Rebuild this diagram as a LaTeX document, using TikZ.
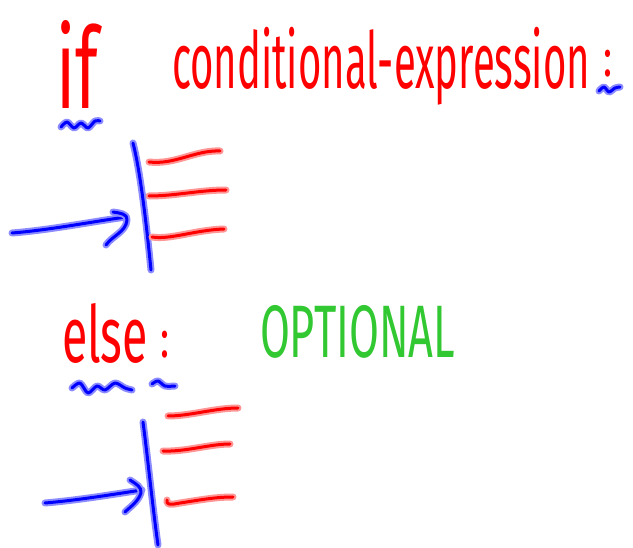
\documentclass[tikz,border=0pt]{standalone}
\usepackage{fontspec}
\setmainfont{Fira Sans}
\usepackage{graphicx}
\definecolor{inkred}{RGB}{255,0,0}
\definecolor{glowred}{RGB}{255,150,150}
\definecolor{inkblue}{RGB}{0,0,255}
\definecolor{glowblue}{RGB}{140,140,255}
\definecolor{inkgreen}{RGB}{50,200,50}
\begin{document}
\begin{tikzpicture}[x=1pt,y=-1pt,
  bstroke/.style={draw=inkblue,line width=3pt,line cap=round,line join=round,
    preaction={draw=glowblue,line width=7pt,line cap=round,line join=round}},
  rstroke/.style={draw=inkred,line width=3pt,line cap=round,line join=round,
    preaction={draw=glowred,line width=7pt,line cap=round,line join=round}},
  txt/.style={anchor=north west,inner sep=0pt,outer sep=0pt}]
\fill[white] (0,0) rectangle (633,548);
\useasboundingbox (0,0) rectangle (633,548);

% --- if line ---
\node[txt,text=inkred] (if) at (56,20) {\resizebox*{42pt}{88pt}{if}};
\node[txt,text=inkred] (cond) at (172,27) {\resizebox*{418pt}{78pt}{conditional-expression}};
\node[txt,text=inkred] (colon1) at (603,50) {\resizebox*{9pt}{27pt}{:}};
\draw[bstroke] plot[smooth] coordinates {(61,127)(67,122)(74,128)(81,123)(88,128)(95,121)(100,121)};
\draw[bstroke] plot[smooth] coordinates {(599,91)(604,87)(609,92)(615,88)(620,87)};

% --- first block ---
\coordinate (a1) at (12,233);
\coordinate (t1) at (126,217);
\draw[bstroke] (133,143) .. controls (140,170) and (146,220) .. (151,270);
\draw[rstroke] (149,162) .. controls (175,165) and (195,150) .. (220,151);
\draw[rstroke] (149,196) .. controls (175,196) and (200,190) .. (226,190);
\draw[rstroke] (152,237) .. controls (170,240) and (195,230) .. (224,229);
\draw[bstroke] (a1) .. controls (50,230) and (90,222) .. (t1);
\draw[bstroke] (113,212) .. controls (120,213) and (128,214) .. (127,220) .. controls (126,232) and (112,236) .. (106,245);

% --- else line ---
\node[txt,text=inkred] (else) at (62,303) {\resizebox*{86pt}{60pt}{else}};
\node[txt,text=inkred] (colon2) at (160,331) {\resizebox*{9pt}{27pt}{:}};
\node[txt,text=inkgreen] (opt) at (260,305) {\resizebox*{195pt}{53pt}{OPTIONAL}};
\draw[bstroke] plot[smooth] coordinates {(72,388)(80,383)(88,393)(97,386)(105,390)(115,383)(125,388)(132,390)};
\draw[bstroke] plot[smooth] coordinates {(152,384)(158,381)(165,386)(175,386)};

% --- second block ---
\coordinate (a2) at (45,503);
\coordinate (t2) at (142,490);
\draw[bstroke] (143,422) .. controls (148,460) and (153,510) .. (158,545);
\draw[rstroke] (168,416) .. controls (190,416) and (215,408) .. (238,408);
\draw[rstroke] (163,451) .. controls (185,452) and (210,444) .. (230,444);
\draw[rstroke] (167,500) .. controls (166,505) and (170,505) .. (180,503) .. controls (200,500) and (215,497) .. (233,497);
\draw[bstroke] (a2) .. controls (80,500) and (115,494) .. (t2);
\draw[bstroke] (130,480) .. controls (136,484) and (142,487) .. (141,493) .. controls (138,502) and (130,507) .. (125,512);
\end{tikzpicture}
\end{document}
